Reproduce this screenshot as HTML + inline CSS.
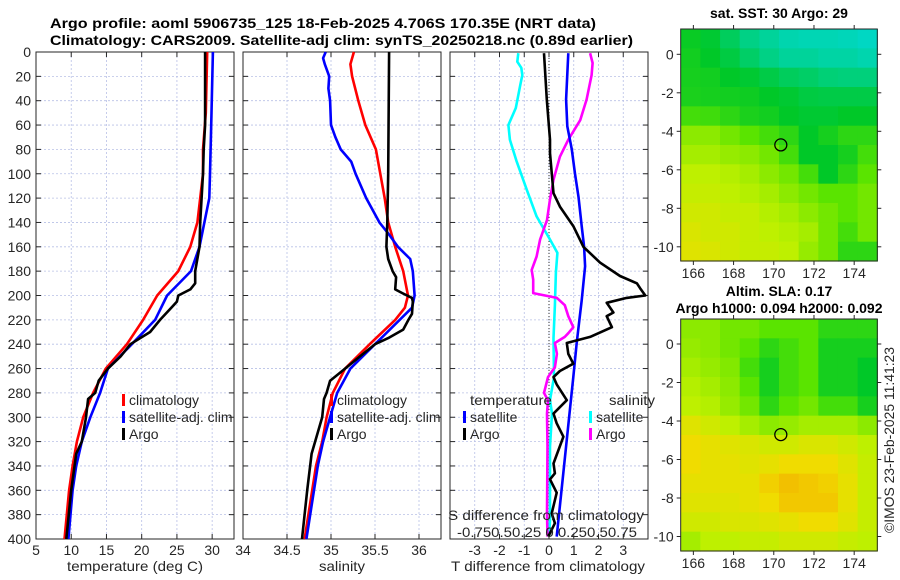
<!DOCTYPE html>
<html><head><meta charset="utf-8">
<style>
html,body{margin:0;padding:0;background:#fff;}
svg{display:block;font-family:"Liberation Sans","DejaVu Sans",sans-serif;}
.tk{font-size:14px;fill:#262626;}
.ttl{font-size:14px;font-weight:bold;fill:#000;}
</style></head>
<body>
<svg id="fig" width="900" height="580" viewBox="0 0 900 580" xmlns="http://www.w3.org/2000/svg">
<text class="ttl" x="50" y="28" textLength="546" lengthAdjust="spacingAndGlyphs">Argo profile: aoml 5906735_125 18-Feb-2025 4.706S 170.35E (NRT data)</text>
<text class="ttl" x="50" y="45" textLength="583" lengthAdjust="spacingAndGlyphs">Climatology: CARS2009. Satellite-adj clim: synTS_20250218.nc (0.89d earlier)</text>
<g id="g1"></g>
<g id="g2"></g>
<g id="g3"></g>
<g id="m1"></g>
<g id="m2"></g>
<text class="ttl" x="779" y="18" text-anchor="middle">sat. SST: 30 Argo: 29</text>
<text class="ttl" x="779" y="296" text-anchor="middle">Altim. SLA: 0.17</text>
<text class="ttl" x="779" y="313" text-anchor="middle">Argo h1000: 0.094 h2000: 0.092</text>
<text x="894" y="440" font-size="14" fill="#262626" text-anchor="middle" textLength="186" lengthAdjust="spacingAndGlyphs" transform="rotate(-90 894 440)">©IMOS 23-Feb-2025 11:41:23</text>
</svg>
<script>
// ---- data ----
const depthTicks=[0,20,40,60,80,100,120,140,160,180,200,220,240,260,280,300,320,340,360,380,400];
const tTicks=[5,10,15,20,25,30];
const sTicks=[34,34.5,35,35.5,36];
const dTicks=[-3,-2,-1,0,1,2,3];

const tClimDepth=[0,50,80,100,120,140,160,180,200,220,240,260,280,300,320,340,360,400];
const tClimVal=[29.3,29.1,28.7,28.7,28.3,27.9,26.9,25.2,22.2,20.2,17.9,14.9,13.1,11.7,10.8,10.2,9.7,9.05];
const tSatDepth=[0,50,100,120,140,160,180,200,220,240,260,280,300,320,340,360,400];
const tSatVal=[30.1,29.9,29.7,29.6,28.9,28.2,27.0,23.6,21.9,18.6,15.2,14.1,12.7,11.5,10.7,10.2,9.6];
const tArgoDepth=[0,60,80,100,110,140,160,180,190,195,200,205,210,220,230,240,250,260,270,280,285,300,320,330,360,400];
const tArgoVal=[29.0,29.0,28.8,28.7,28.6,28.3,28.2,27.6,27.6,26.9,25.2,25.0,24.2,22.6,21.2,18.4,17.0,15.2,13.9,13.4,12.4,12.1,11.5,10.7,10.0,9.3];

const sClimDepth=[0,10,20,40,60,80,100,120,140,160,180,200,210,220,240,260,280,300,320,340,400];
const sClimVal=[35.26,35.22,35.24,35.31,35.39,35.51,35.56,35.61,35.65,35.73,35.82,35.875,35.84,35.73,35.44,35.16,35.02,34.95,34.9,34.83,34.70];
const sSatDepth=[0,5,10,20,30,40,60,70,80,90,100,120,140,150,160,170,180,200,210,220,240,260,280,300,320,340,400];
const sSatVal=[34.94,34.91,34.93,34.98,34.97,34.99,35.0,35.05,35.11,35.23,35.28,35.40,35.55,35.66,35.76,35.90,35.93,35.95,35.92,35.78,35.50,35.22,35.07,34.99,34.91,34.85,34.72];
const sArgoDepth=[0,100,140,160,170,180,185,195,198,202,205,215,220,228,235,240,250,260,270,280,285,300,330,360,400];
const sArgoVal=[35.66,35.65,35.64,35.63,35.65,35.70,35.74,35.73,35.81,35.92,35.93,35.92,35.88,35.82,35.65,35.50,35.33,35.16,34.99,34.95,34.92,34.9,34.78,34.73,34.67];

const dTSatDepth=[1,39,61,80,100,119,143,160,176,204,220,239,253,267,398];
const dTSatVal=[0.78,0.69,0.74,0.92,1.05,1.19,1.32,1.42,1.46,1.32,1.23,1.12,1.05,0.98,0.31];
const dTArgoDepth=[1,39,72,83,116,127,143,160,173,184,190,194,200,202,206,214,217,226,234,239,248,256,262,267,273,286,297,305,316,338,346,351,362,379,387,398];
const dTArgoVal=[-0.20,-0.09,0.04,0.04,0.18,0.44,0.98,1.39,2.06,2.87,3.55,3.68,3.89,3.14,2.33,2.6,2.33,2.54,1.66,0.72,0.78,0.98,0.44,0.18,0.31,0.72,0.18,0.31,0.58,0.18,0.24,0.04,0.31,0.11,0.24,-0.03];
const dSSatDepth=[1,8,13,19,27,46,60,72,89,113,135,154,165,181,208,235,267,286,297,324,385,398];
const dSSatVal=[-0.31,-0.32,-0.28,-0.27,-0.29,-0.335,-0.41,-0.395,-0.33,-0.225,-0.125,0.01,0.085,0.07,0.06,0.045,0.05,0.01,0.03,0.01,0.01,0.0];
const dSArgoDepth=[1,9,19,39,56,72,86,105,121,138,154,168,179,187,198,202,208,217,226,231,234,239,248,259,267,280,286,297,324,379,398];
const dSArgoVal=[0.415,0.44,0.43,0.38,0.315,0.195,0.11,0.045,0.01,-0.02,-0.09,-0.125,-0.175,-0.16,-0.16,0.08,0.16,0.195,0.245,0.195,0.16,0.06,0.08,0.06,-0.01,-0.05,-0.01,-0.02,-0.015,-0.02,-0.015];

const sstGrid=[
[0.32,0.28,0.2,0.12,0.08,0.04,0.03,0.03,0.02,0.0],
[0.34,0.3,0.25,0.18,0.12,0.08,0.08,0.06,0.06,0.04],
[0.35,0.34,0.3,0.28,0.24,0.2,0.18,0.15,0.14,0.14],
[0.36,0.35,0.34,0.33,0.3,0.28,0.25,0.24,0.24,0.24],
[0.45,0.44,0.4,0.36,0.34,0.3,0.28,0.28,0.3,0.3],
[0.6,0.6,0.55,0.5,0.45,0.4,0.3,0.35,0.4,0.4],
[0.65,0.65,0.62,0.6,0.55,0.45,0.3,0.3,0.35,0.45],
[0.7,0.7,0.68,0.65,0.6,0.55,0.45,0.3,0.4,0.5],
[0.72,0.72,0.7,0.68,0.65,0.6,0.55,0.5,0.5,0.55],
[0.75,0.75,0.72,0.72,0.68,0.65,0.6,0.55,0.5,0.55],
[0.78,0.75,0.75,0.72,0.7,0.68,0.65,0.55,0.45,0.55],
[0.8,0.78,0.75,0.72,0.72,0.7,0.62,0.55,0.4,0.4]];
const slaGrid=[
[0.6,0.6,0.55,0.55,0.5,0.5,0.5,0.4,0.4,0.4],
[0.62,0.6,0.55,0.5,0.4,0.45,0.5,0.35,0.35,0.35],
[0.65,0.62,0.58,0.45,0.35,0.45,0.5,0.35,0.35,0.3],
[0.68,0.65,0.6,0.5,0.35,0.45,0.5,0.35,0.35,0.3],
[0.7,0.68,0.62,0.55,0.4,0.5,0.55,0.45,0.45,0.35],
[0.8,0.75,0.7,0.65,0.6,0.62,0.65,0.65,0.65,0.6],
[0.85,0.82,0.8,0.78,0.75,0.75,0.78,0.78,0.75,0.7],
[0.85,0.82,0.82,0.8,0.82,0.85,0.85,0.85,0.8,0.72],
[0.82,0.82,0.82,0.82,0.88,0.92,0.9,0.88,0.82,0.72],
[0.8,0.8,0.8,0.82,0.85,0.9,0.9,0.9,0.82,0.72],
[0.75,0.75,0.78,0.78,0.8,0.82,0.85,0.85,0.8,0.72],
[0.65,0.7,0.7,0.72,0.72,0.75,0.75,0.75,0.72,0.7]];
const lonTicks=[166,168,170,172,174];
const latTicks=[0,-2,-4,-6,-8,-10];
const argoLon=[170.35];
const argoLat=[-4.706];

// ---- helpers ----
const NS="http://www.w3.org/2000/svg";
function mk(parent,tag,attrs){const e=document.createElementNS(NS,tag);for(const k in attrs)e.setAttribute(k,attrs[k]);parent.appendChild(e);return e;}
const TOP=52,BOT=539;
const yD=d=>TOP+(d/400)*(BOT-TOP);

function panel(g,x0,x1,lo,hi,ticks,labels,showY,name){
  const xs=v=>x0+(v-lo)/(hi-lo)*(x1-x0);
  depthTicks.forEach(d=>{const l=mk(g,'line',{x1:x0,x2:x1,y1:yD(d),y2:yD(d),stroke:'#b8c0e6','stroke-width':0.8,'stroke-dasharray':'2,2'});
    });
  ticks.forEach(t=>{const l=mk(g,'line',{x1:xs(t),x2:xs(t),y1:TOP,y2:BOT,stroke:'#b8c0e6','stroke-width':0.8,'stroke-dasharray':'2,2'});
    });
  depthTicks.forEach(d=>{
    const a=mk(g,'line',{x1:x0,x2:x0+5,y1:yD(d),y2:yD(d),stroke:'#262626'});
    const b=mk(g,'line',{x1:x1-5,x2:x1,y1:yD(d),y2:yD(d),stroke:'#262626'});
    if(showY){const t=mk(g,'text',{x:x0-5,y:yD(d)+5,'text-anchor':'end',class:'tk'});t.textContent=d;
      }
  });
  ticks.forEach((v,i)=>{
    const a=mk(g,'line',{x1:xs(v),x2:xs(v),y1:BOT,y2:BOT-5,stroke:'#262626'});
    const b=mk(g,'line',{x1:xs(v),x2:xs(v),y1:TOP,y2:TOP+5,stroke:'#262626'});
    if(labels){const t=mk(g,'text',{x:xs(v),y:BOT+16,'text-anchor':'middle',class:'tk'});t.textContent=labels[i];
      }
  });
  const r=mk(g,'rect',{x:x0,y:TOP,width:x1-x0,height:BOT-TOP,fill:'none',stroke:'#262626','stroke-width':1});
  
  return xs;
}
function series(g,xs,depths,vals,color,name){
  const pts=depths.map((d,i)=>xs(vals[i]).toFixed(1)+','+yD(d).toFixed(1)).join(' ');
  const p=mk(g,'polyline',{points:pts,fill:'none',stroke:color,'stroke-width':2.6,'stroke-linejoin':'round'});
  
}
function legend(g,x,y,items){
  items.forEach((it,i)=>{
    const m=mk(g,'rect',{x:x,y:y+i*17-11,width:3,height:12,fill:it[1]});
    
    const t=mk(g,'text',{x:x+7,y:y+i*17,class:'tk','font-size':'15'});t.textContent=it[0];
    
  });
}
function label(g,x,y,txt,name,len){const t=mk(g,'text',{x:x,y:y,'text-anchor':'middle',class:'tk','font-size':'15'});t.textContent=txt;
  if(len){t.setAttribute('textLength',len);t.setAttribute('lengthAdjust','spacingAndGlyphs');}
  return t;}

const g1=document.getElementById('g1');
const xT=panel(g1,36,234,5,33.1,tTicks,tTicks.map(String),true,'temperature');
series(g1,xT,tClimDepth,tClimVal,'#ff0000','climatology-temp-line');
series(g1,xT,tSatDepth,tSatVal,'#0000ff','satellite-temp-line');
series(g1,xT,tArgoDepth,tArgoVal,'#000000','argo-temp-line');
legend(g1,122,405,[['climatology','#ff0000'],['satellite-adj. clim','#0000ff'],['Argo','#000000']]);
label(g1,135,571,'temperature (deg C)','x-axis-title-temperature',136);

const g2=document.getElementById('g2');
const xS=panel(g2,243,441,34,36.25,sTicks,sTicks.map(String),false,'salinity');
series(g2,xS,sClimDepth,sClimVal,'#ff0000','climatology-sal-line');
series(g2,xS,sSatDepth,sSatVal,'#0000ff','satellite-sal-line');
series(g2,xS,sArgoDepth,sArgoVal,'#000000','argo-sal-line');
legend(g2,330,405,[['climatology','#ff0000'],['satellite-adj. clim','#0000ff'],['Argo','#000000']]);
label(g2,342,571,'salinity','x-axis-title-salinity',46);

const g3=document.getElementById('g3');
const xDT=panel(g3,450,648,-4,4,dTicks,dTicks.map(String),false,'difference');
const xDS=v=>xDT(v*4);
const z=mk(g3,'line',{x1:xDT(0),x2:xDT(0),y1:TOP,y2:BOT,stroke:'#333','stroke-dasharray':'1,2','stroke-width':1});

series(g3,xDS,dSSatDepth,dSSatVal,'#00ffff','satellite-sal-diff-line');
series(g3,xDS,dSArgoDepth,dSArgoVal,'#ff00ff','argo-sal-diff-line');
series(g3,xDT,dTSatDepth,dTSatVal,'#0000ff','satellite-temp-diff-line');
series(g3,xDT,dTArgoDepth,dTArgoVal,'#000000','argo-temp-diff-line');
label(g3,511,405,'temperature','legend-title-temperature',82);
label(g3,632,405,'salinity','legend-title-salinity',46);
legend(g3,463,422,[['satellite','#0000ff'],['Argo','#000000']]);
legend(g3,589,422,[['satellite','#00ffff'],['Argo','#ff00ff']]);
label(g3,546,520,'S difference from climatology','s-axis-title',196);
label(g3,547,537,'-0.750.50.25 0 0.250.50.75','s-axis-tick-labels',180);
label(g3,548,571,'T difference from climatology','x-axis-title-difference',194);

function cmap(v){
  const stops=[[0,[0,215,195]],[0.3,[0,200,40]],[0.5,[90,228,0]],[0.7,[190,240,0]],[0.85,[240,220,0]],[1,[245,160,0]]];
  for(let i=1;i<stops.length;i++){if(v<=stops[i][0]){const a=stops[i-1],b=stops[i];const f=(v-a[0])/(b[0]-a[0]);
    return 'rgb('+a[1].map((c,k)=>Math.round(c+(b[1][k]-c)*f)).join(',')+')';}}
  return 'rgb(245,160,0)';
}
function map(g,y0,y1,lat0y,grid,name){
  const x0=680.7,x1=877.3,lonL=165.37,lonR=175.15;
  const lx=lo=>x0+(lo-lonL)/(lonR-lonL)*(x1-x0);
  const ly=la=>lat0y-la*19.25;
  const rows=grid.length,cols=grid[0].length;
  const cw=(x1-x0)/cols,ch=(y1-y0)/rows;
  grid.forEach((row,r)=>row.forEach((v,c)=>{
    const e=mk(g,'rect',{x:(x0+c*cw).toFixed(2),y:(y0+r*ch).toFixed(2),width:(cw+0.6).toFixed(2),height:(ch+0.6).toFixed(2),fill:cmap(v)});
    
  }));
  lonTicks.forEach(lo=>{
    const t=mk(g,'text',{x:lx(lo),y:y1+17,'text-anchor':'middle',class:'tk'});t.textContent=lo;
    
    const a=mk(g,'line',{x1:lx(lo),x2:lx(lo),y1:y1,y2:y1+4,stroke:'#262626'});
    const b=mk(g,'line',{x1:lx(lo),x2:lx(lo),y1:y0,y2:y0-4,stroke:'#262626'});
  });
  latTicks.forEach(la=>{
    const t=mk(g,'text',{x:x0-7,y:ly(la)+5,'text-anchor':'end',class:'tk'});t.textContent=la;
    
    const a=mk(g,'line',{x1:x0-4,x2:x0,y1:ly(la),y2:ly(la),stroke:'#262626'});
    const b=mk(g,'line',{x1:x1,x2:x1+4,y1:ly(la),y2:ly(la),stroke:'#262626'});
  });
  const c=mk(g,'circle',{cx:lx(argoLon[0]),cy:ly(argoLat[0]),r:6,fill:'none',stroke:'#000','stroke-width':1.3});
  
  const bx=mk(g,'rect',{x:x0,y:y0,width:x1-x0,height:y1-y0,fill:'none',stroke:'#262626','stroke-width':1});
  
}
map(document.getElementById('m1'),29,261,54.3,sstGrid,'sst-map');
map(document.getElementById('m2'),319,551,344,slaGrid,'sla-map');
</script>
</body></html>
